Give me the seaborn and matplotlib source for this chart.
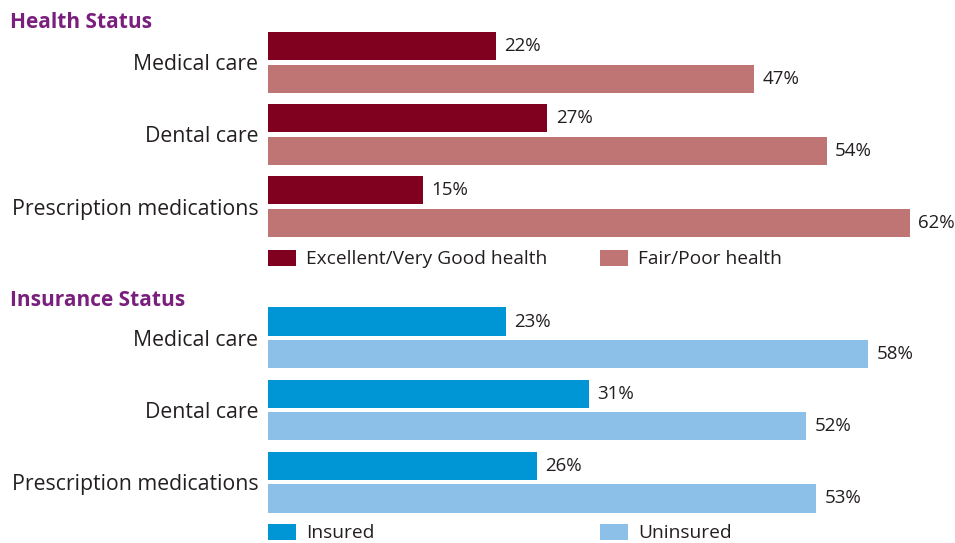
import pandas as pd
import numpy as np

import seaborn as sns
import matplotlib.pyplot as plt
from matplotlib.patches import Patch


# values (percent)
services = ['Medical care', 'Dental care', 'Prescription medications']
health_groups = ['Excellent/Very Good health', 'Fair/Poor health']
health_good = [22, 27, 15]
health_poor = [47, 54, 62]
ins_groups = ['Insured', 'Uninsured']
insured = [23, 31, 26]
uninsured = [58, 52, 53]

health_colors = ['#800020', '#BF7574']
ins_colors = ['#0096D6', '#8DC0E8']
title_color = '#7A1F7E'
text_color = '#231F20'

sns.set_theme(style='white')
plt.rcParams['font.family'] = ['Open Sans', 'DejaVu Sans']

W, H = 955, 543
fig = plt.figure(figsize=(W / 100, H / 100), dpi=100)


def px_axes(left, top, right, bottom):
    return fig.add_axes([left / W, 1 - bottom / H, (right - left) / W, (bottom - top) / H])


def panel(ax, groups, a, b, colors):
    df = pd.DataFrame({
        'Service': services * 2,
        'Group': [groups[0]] * 3 + [groups[1]] * 3,
        'Value': a + b,
    })
    sns.barplot(data=df, y='Service', x='Value', hue='Group', orient='h',
                palette=colors, width=0.89, gap=0.125, ax=ax, legend=False,
                saturation=1, linewidth=0)
    for cont in ax.containers:
        ax.bar_label(cont, labels=[f'{int(v)}%' for v in cont.datavalues],
                     padding=6, fontsize=13.5, color=text_color)
    ax.set_xlim(0, 66)
    ax.set_ylim(2.5, -0.5)
    ax.set_xlabel('')
    ax.set_ylabel('')
    ax.set_xticks([])
    ax.tick_params(axis='y', length=0, pad=7, labelsize=15.3, labelcolor=text_color)
    sns.despine(ax=ax, left=True, bottom=True)


ax1 = px_axes(268, 26.5, 951, 242.5)
panel(ax1, health_groups, health_good, health_poor, health_colors)
ax2 = px_axes(268, 301.5, 951, 518.5)
panel(ax2, ins_groups, insured, uninsured, ins_colors)

fig.text(10 / W, 1 - 23 / H, 'Health Status', fontsize=15, fontweight='bold',
         color=title_color, va='center', ha='left')
fig.text(10 / W, 1 - 300 / H, 'Insurance Status', fontsize=15, fontweight='bold',
         color=title_color, va='center', ha='left')

# legends, one entry each so they line up like the original
def legend_item(label, color, x, y):
    fig.legend(handles=[Patch(facecolor=color, edgecolor='none')], labels=[label],
               loc='center left', bbox_to_anchor=(x / W, 1 - y / H),
               frameon=False, borderpad=0, borderaxespad=0,
               handlelength=1.45, handleheight=0.9, handletextpad=0.55,
               fontsize=13.8, labelcolor=text_color)

legend_item(health_groups[0], health_colors[0], 268, 259)
legend_item(health_groups[1], health_colors[1], 600, 259)
legend_item(ins_groups[0], ins_colors[0], 268, 533)
legend_item(ins_groups[1], ins_colors[1], 600, 533)

fig.savefig('out.png', dpi=100)
